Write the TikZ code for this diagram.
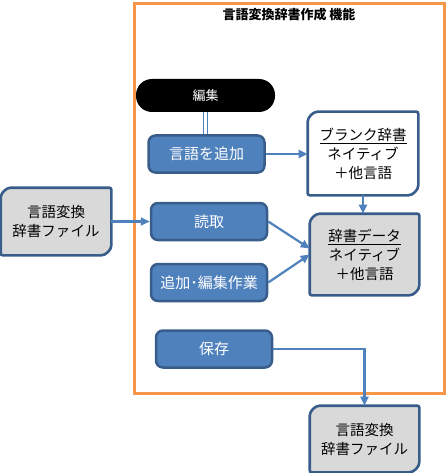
\documentclass[tikz,border=0pt]{standalone}
\usepackage{fontspec}
\setmainfont{Noto Sans CJK JP}
\usepackage{xcolor}
\usepackage{tikz}
\usetikzlibrary{arrows.meta,backgrounds}
\definecolor{procblue}{RGB}{79,129,189}
\definecolor{edgeblue}{RGB}{56,93,138}
\definecolor{datagray}{RGB}{217,217,217}
\definecolor{frameorange}{RGB}{247,150,70}
\tikzset{
  procbox/.style ={draw=edgeblue, fill=procblue, line width=2.5pt,
                   rounded corners=7pt, minimum width=116pt,
                   minimum height=37pt, inner sep=0pt, text=white,
                   font=\fontsize{15}{18}\selectfont},
  diagbox/.style ={minimum width=#1, inner sep=0pt, outer sep=1.3pt,
                   align=center, font=\fontsize{14.5}{19}\selectfont},
  diagbox/.default=107pt,
  pillbox/.style ={fill=black, rounded corners=16pt, minimum width=139pt,
                   minimum height=33pt, inner sep=0pt, text=white,
                   font=\fontsize{13}{15}\selectfont},
  arr/.style     ={-{Triangle[length=9pt,width=8pt]}, draw=procblue,
                   line width=2.2pt},
  dline/.style   ={draw=procblue, double=white, double distance=2.2pt,
                   line width=1.1pt},
}
% outline with the top left and bottom right corners rounded
\newcommand\diagoutline[2]{%
  \begin{pgfonlayer}{background}
    \filldraw[fill=#2, draw=edgeblue, line width=2.6pt, rounded corners=2pt]
      ([yshift=-12pt]#1.north west) arc[start angle=180, end angle=90, radius=12pt]
      -- (#1.north east) -- ([yshift=12pt]#1.south east)
      arc[start angle=0, end angle=-90, radius=12pt] -- (#1.south west) -- cycle;
  \end{pgfonlayer}}

\begin{document}
\begin{tikzpicture}[x=1pt, y=1pt]
  \useasboundingbox (0,0) rectangle (447,-473);
  \draw[frameorange, line width=3pt] (134.5,-3.5) rectangle (444.5,-393.5);
  \node[font=\fontsize{13}{15}\selectfont\bfseries] (title) at (289,-15) {言語変換辞書作成 機能};

  \node[pillbox] (edit) at (205.5,-95.5) {編集};
  \node[procbox] (addlang) at (206.5,-154) {言語を追加};
  \node[procbox] (read) at (209,-221.5) {読取};
  \node[procbox] (editwork) at (209,-282.5) {追加･編集作業};
  \node[procbox] (save) at (214,-349) {保存};

  \node[diagbox=108pt, minimum height=81pt] (blank) at (363,-153.5)
    {\underline{ブランク辞書}\\ネイティブ\\＋他言語};
  \node[diagbox, minimum height=79pt] (dict) at (364.5,-254.5)
    {\underline{辞書データ}\\ネイティブ\\＋他言語};
  \node[diagbox=108pt, minimum height=65pt] (srcfile) at (56,-221.5)
    {言語変換\\辞書ファイル};
  \node[diagbox, minimum height=64pt] (outfile) at (364.5,-439)
    {言語変換\\辞書ファイル};
  \diagoutline{blank}{white}
  \diagoutline{dict}{datagray}
  \diagoutline{srcfile}{datagray}
  \diagoutline{outfile}{datagray}

  \draw[dline] (edit.south) -- (edit.south |- addlang.north);
  \draw[arr] (addlang.east) -- (addlang.east -| blank.west);
  \draw[arr] (blank.south) -- (blank.south |- dict.north);
  \draw[arr] (srcfile.east) -- (read.west);
  \draw[arr] (read.east) -- ([yshift=6pt]dict.west);
  \draw[arr] (editwork.east) -- (dict.west);
  \draw[arr] (save.east) -| (outfile.north);
\end{tikzpicture}
\end{document}
